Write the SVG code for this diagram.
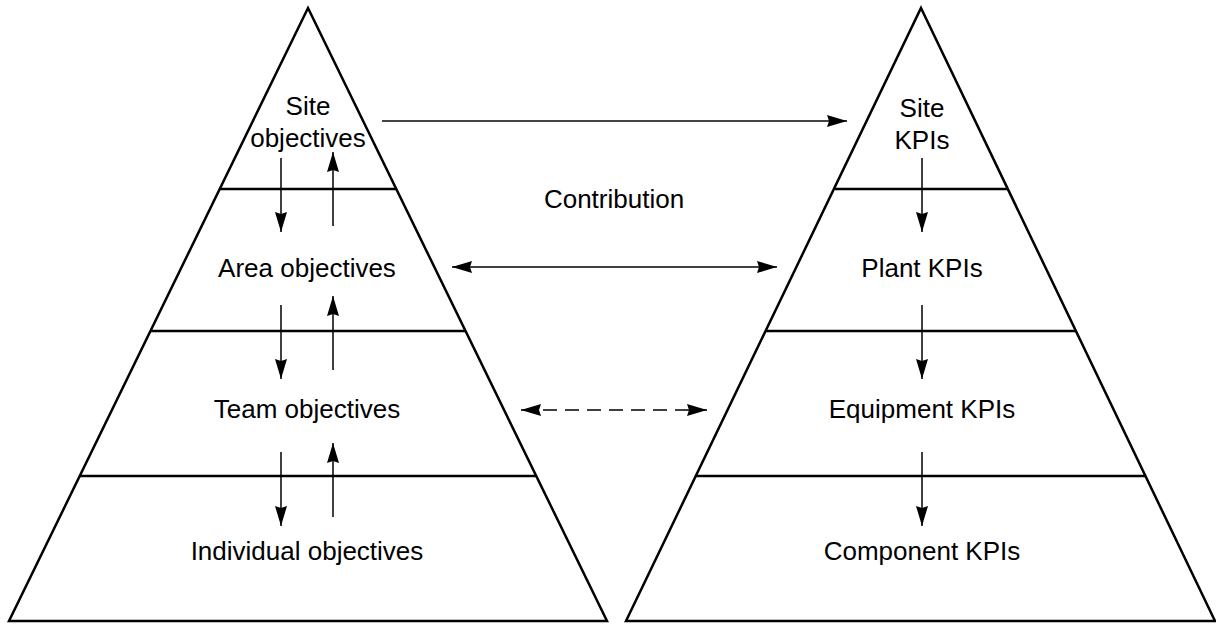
<svg xmlns="http://www.w3.org/2000/svg" width="1216" height="625" viewBox="0 0 1216 625">
<style>
.pyr{fill:none;stroke:#000;stroke-width:2.5;stroke-linejoin:miter}
.div{stroke:#000;stroke-width:2.5}
.lbl{font-family:"Liberation Sans",Arial,sans-serif;font-size:26px;fill:#000;text-anchor:middle}
.arr{stroke:#000;stroke-width:1.5;fill:none}
.dash{stroke-dasharray:14 8}
</style>
<defs>
<marker id="ah" viewBox="0 0 20 12" refX="20" refY="6" markerWidth="20" markerHeight="12" markerUnits="userSpaceOnUse" orient="auto-start-reverse">
<path d="M0,0 L20,6 L0,12 L2,6 Z" fill="#000"/>
</marker>
</defs>
<g id="left-pyramid">
<polygon class="pyr" points="308,8 607,621 9,621"/>
<line class="div" x1="220" y1="189" x2="396" y2="189"/>
<line class="div" x1="150" y1="331" x2="466" y2="331"/>
<line class="div" x1="80" y1="476" x2="536" y2="476"/>
</g>
<g id="site-objectives"><text class="lbl" x="308" y="115">Site</text><text class="lbl" x="308" y="147">objectives</text></g>
<g id="area-objectives"><text class="lbl" x="307" y="277">Area objectives</text></g>
<g id="team-objectives"><text class="lbl" x="307" y="418">Team objectives</text></g>
<g id="individual-objectives"><text class="lbl" x="307" y="560">Individual objectives</text></g>
<g id="right-pyramid">
<polygon class="pyr" points="921,8 1215,621 626,621"/>
<line class="div" x1="835" y1="189" x2="1008" y2="189"/>
<line class="div" x1="765" y1="331" x2="1076" y2="331"/>
<line class="div" x1="695" y1="476" x2="1146" y2="476"/>
</g>
<g id="site-kpis"><text class="lbl" x="922" y="117">Site</text><text class="lbl" x="922" y="149">KPIs</text></g>
<g id="plant-kpis"><text class="lbl" x="922" y="277">Plant KPIs</text></g>
<g id="equipment-kpis"><text class="lbl" x="922" y="418">Equipment KPIs</text></g>
<g id="component-kpis"><text class="lbl" x="922" y="560">Component KPIs</text></g>
<g id="contribution"><text class="lbl" x="614" y="208">Contribution</text></g>
<g id="connectors">
<line class="arr" x1="281" y1="158" x2="281" y2="232" marker-end="url(#ah)"/>
<line class="arr" x1="333" y1="226" x2="333" y2="152" marker-end="url(#ah)"/>
<line class="arr" x1="281" y1="305" x2="281" y2="379" marker-end="url(#ah)"/>
<line class="arr" x1="333" y1="370" x2="333" y2="296" marker-end="url(#ah)"/>
<line class="arr" x1="281" y1="452" x2="281" y2="526" marker-end="url(#ah)"/>
<line class="arr" x1="333" y1="517" x2="333" y2="443" marker-end="url(#ah)"/>
<line class="arr" x1="922" y1="158" x2="922" y2="232" marker-end="url(#ah)"/>
<line class="arr" x1="922" y1="305" x2="922" y2="379" marker-end="url(#ah)"/>
<line class="arr" x1="922" y1="452" x2="922" y2="526" marker-end="url(#ah)"/>
<line class="arr" x1="382" y1="121" x2="847" y2="121" marker-end="url(#ah)" style="stroke:#444;stroke-width:2"/>
<line class="arr" x1="452" y1="267" x2="777" y2="267" marker-start="url(#ah)" marker-end="url(#ah)"/>
<line class="arr dash" x1="521" y1="410" x2="707" y2="410" marker-start="url(#ah)" marker-end="url(#ah)"/>
</g>
</svg>
